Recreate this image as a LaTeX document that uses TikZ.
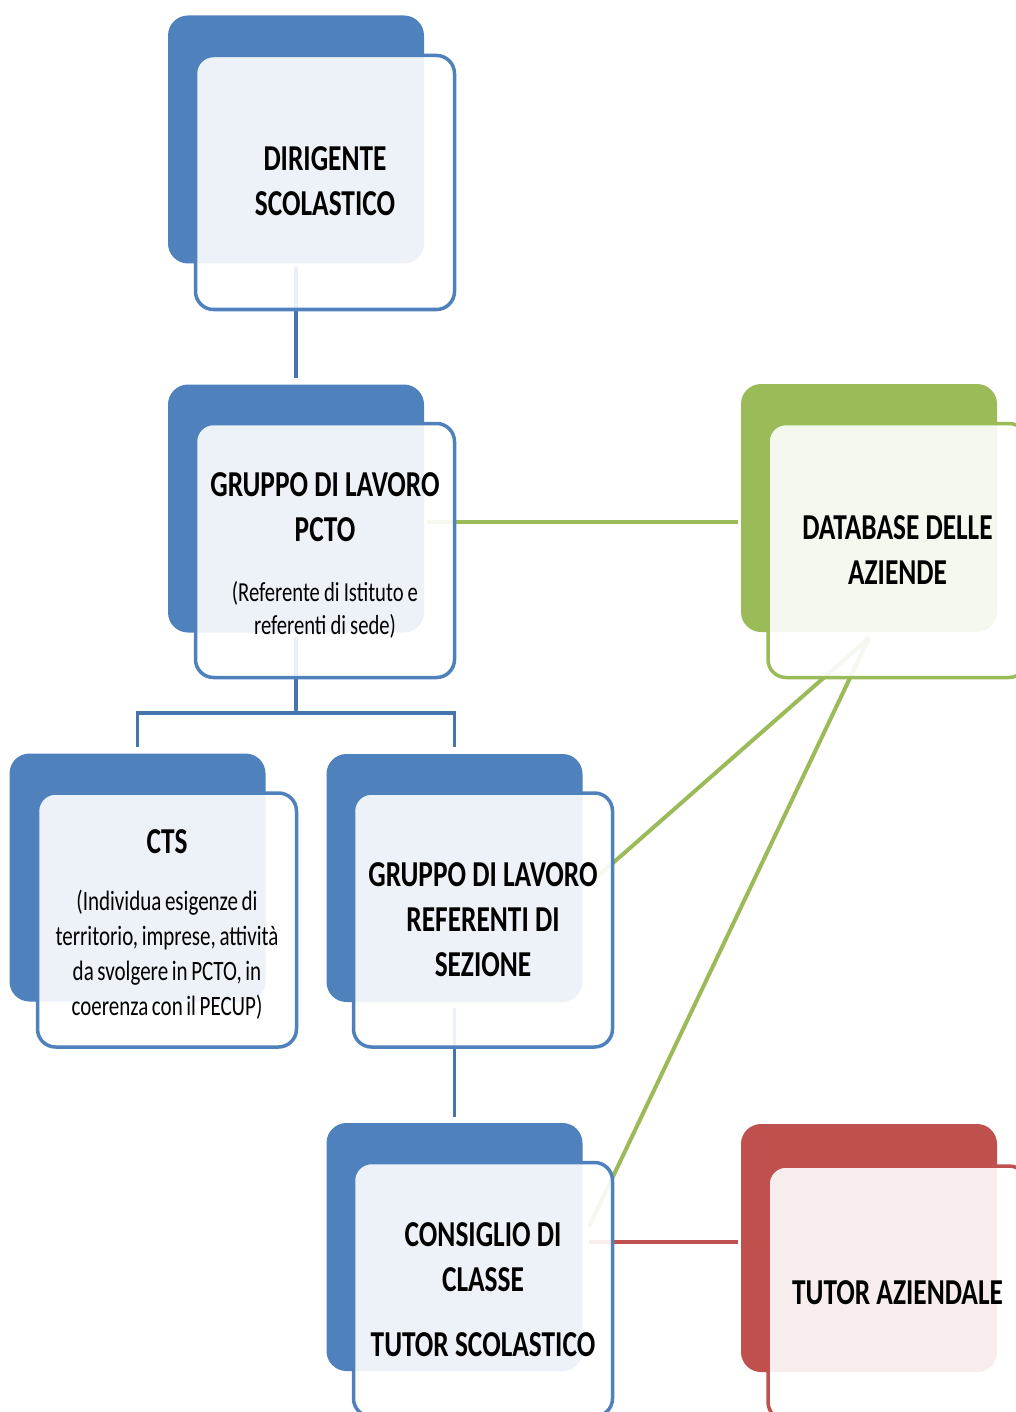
\documentclass[tikz,border=0pt]{standalone}
\usepackage{fontspec}
\setmainfont{Carlito}[FakeStretch=0.75]
\usetikzlibrary{calc}
\definecolor{cblue}{HTML}{4F81BD}
\definecolor{cgreen}{HTML}{9BBB59}
\definecolor{cred}{HTML}{C0504D}
\definecolor{cline}{HTML}{4675AE}
\newcommand{\bigtxt}{\bfseries\fontsize{36.5}{45}\selectfont\spaceskip=0.17em\relax\xspaceskip=0.17em\relax}
\newcommand{\smalltxt}{\mdseries\fontsize{27.5}{33}\selectfont\spaceskip=0.15em\relax\xspaceskip=0.17em\relax}
\newcommand{\smalltxtb}{\mdseries\fontsize{28}{35}\selectfont\spaceskip=0.13em\relax\xspaceskip=0.17em\relax}
\tikzset{
  backbox/.style={rounded corners=20pt, minimum width=256pt, minimum height=248pt, inner sep=0pt, outer sep=0pt, fill=#1},
  frontbox/.style={rounded corners=18pt, minimum width=259pt, minimum height=254pt, inner sep=0pt, outer sep=0pt,
    draw=#1, line width=3.5pt, fill=white, fill opacity=0.9},
  boxtext/.style={inner sep=0pt, text width=252pt, align=flush center, font=\bigtxt},
  bluecon/.style={draw=cline, line width=3.5pt},
  greencon/.style={draw=cgreen, line width=4pt},
  redcon/.style={draw=cred, line width=4pt},
}
\begin{document}
\begin{tikzpicture}[x=1pt,y=-1pt]
\useasboundingbox (0,0) rectangle (1016,1412);
\fill[white] (0,0) rectangle (1016,1412);
% back boxes
\node[backbox=cblue] (b1) at (296,139.5) {};
\node[backbox=cblue] (b2) at (296,508.5) {};
\node[backbox=cblue] (b3) at (137.5,877.5) {};
\node[backbox=cblue] (b4) at (454.5,878) {};
\node[backbox=cblue] (b5) at (454.5,1247) {};
\node[backbox=cgreen] (b6) at (869,508) {};
\node[backbox=cred] (b7) at (869,1248) {};
% connectors
\draw[bluecon, shorten <=4pt, shorten >=7pt] (b1) -- (b2);
\coordinate (fork) at (296,713);
\draw[bluecon, shorten <=4pt] (b2.south) -- (fork);
\draw[bluecon] ($(b3.north)+(0,-7)$) |- (fork) -| ($(b4.north)+(0,-7)$);
\draw[bluecon, shorten <=6pt, shorten >=6pt] (b4) -- (b5);
\coordinate (g0) at (427,522);
\draw[greencon, shorten >=3pt] (g0) -- (b6.west |- g0);
\coordinate (dbs) at ($(b6.south)+(0,6)$);
\coordinate (refin) at (597,877);
\coordinate (consin) at (589,1227);
\draw[greencon] (dbs) -- (refin);
\draw[greencon] (dbs) -- (consin);
\coordinate (r0) at (589,1242);
\draw[redcon, shorten >=3pt] (r0) -- (b7.west |- r0);
% front boxes
\node[frontbox=cblue] (f1) at (325,182.5) {};
\node[frontbox=cblue] (f2) at (325,550.5) {};
\node[frontbox=cblue] (f3) at (167,920) {};
\node[frontbox=cblue] (f4) at (483,920) {};
\node[frontbox=cblue] (f5) at (483,1289.5) {};
\node[frontbox=cgreen] (f6) at (897.5,550.5) {};
\node[frontbox=cred] (f7) at (897.5,1293) {};
% texts
\node[boxtext, yshift=1.5pt] (t1) at (f1.center) {\bigtxt DIRIGENTE\\SCOLASTICO\par};
\node[boxtext, yshift=-5pt] (t2) at (f2.center) {\bigtxt GRUPPO DI LAVORO\\PCTO\par\vspace{27pt}\smalltxt(Referente di Istituto e\\referenti di sede)\par};
\node[boxtext, yshift=-4pt] (t3) at (f3.center) {\bigtxt CTS\par\vspace{22pt}\smalltxtb(Individua esigenze di\\territorio, imprese, attività\\da svolgere in PCTO, in\\coerenza con il PECUP)\par};
\node[boxtext] (t4) at (f4.center) {\bigtxt GRUPPO DI LAVORO\\REFERENTI DI\\SEZIONE\par};
\node[boxtext] (t5) at (f5.center) {\bigtxt CONSIGLIO DI\\CLASSE\par\vspace{20pt}TUTOR SCOLASTICO\par};
\node[boxtext] (t6) at (f6.center) {\bigtxt DATABASE DELLE\\AZIENDE\par};
\node[boxtext] (t7) at (f7.center) {\bigtxt TUTOR AZIENDALE\par};
\end{tikzpicture}
\end{document}
